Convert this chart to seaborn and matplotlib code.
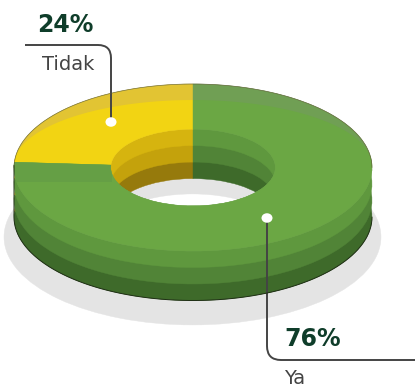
import numpy as np
import matplotlib
matplotlib.use("Agg")
import matplotlib.pyplot as plt
import seaborn as sns
from matplotlib.patches import Ellipse, PathPatch, Rectangle
from matplotlib.path import Path

# Survey answers
labels = ["Tidak", "Ya"]
shares = [24, 76]
share_text = ["24%", "76%"]

# Colours per slice: top face, its shaded rim, then the three side bands
yellow_tones = ["#F2D413", "#E2C433", "#D6B40F", "#C4A20C", "#967A0C"]
green_tones = ["#6BA744", "#709F54", "#5F983E", "#518437", "#3E6A2A"]
green_soft_band = "#659F45"
shadow_tone = "#E4E4E4"
line_tone = "#444444"
heading_tone = "#0F3D2A"
label_tone = "#444444"

W, H = 415, 387
CX, CY = 193, 167.5
RX, RY = 179, 83.5
SQUASH = RY / RX
BAND = 16.5

sns.set_theme(style="white", font="DejaVu Sans")
fig = plt.figure(figsize=(W / 100, H / 100), dpi=100, facecolor="white")

# Pie axes: y is stretched so circles come out as flattened ellipses
ax = fig.add_axes([0, 0, 1, 1], facecolor="none")
# Overlay axes in image pixels for the rim clip, leader lines and text
px = fig.add_axes([0, 0, 1, 1], facecolor="none")
px.set_xlim(0, W)
px.set_ylim(H, 0)


def to_pie_y(y):
    return (H - y) / SQUASH


def ring(values, colors, cy, radius=RX, hole=0.46, cx=CX):
    wedges, _ = ax.pie(
        values, colors=colors, startangle=90, counterclock=True,
        center=(cx, to_pie_y(cy)), radius=radius, frame=False,
        wedgeprops=dict(width=radius * (1 - hole), linewidth=0.3),
    )
    for w, c in zip(wedges, colors):
        w.set_edgecolor(c)
    return wedges


# Ground shadow is a ring too, which is why white shows through the hole
ring([1], [shadow_tone], 237, radius=188.5, hole=0.49, cx=192.5)

# Side bands, lowest first, each one peeking out below the next
for level in (3, 2, 1):
    ring(shares, [yellow_tones[level + 1], green_tones[level + 1]], CY + level * BAND)

# Top face: shaded rim below, lit surface above it clipped to the lit area
ring(shares, [yellow_tones[1], green_tones[1]], CY)
lit_wedges = ring(shares, [yellow_tones[0], green_tones[0]], CY)
soft_wedges = ring(shares, [yellow_tones[0], green_soft_band], CY)

t = np.linspace(np.pi, 0, 80)
arc = np.column_stack([CX + RX * np.cos(t), 165 - 65 * np.sin(t)])
outline = np.vstack([
    arc,
    [[CX + RX + 5, 165], [CX + RX + 5, 265], [0, 265], [0, 182], [112, 182], [112, 165]],
    arc[:1],
])
lit_area = Path(outline)

ax.set_xlim(0, W)
ax.set_ylim(0, H / SQUASH)
ax.set_aspect("auto")
ax.set_axis_off()
px.set_axis_off()

for w in lit_wedges:
    w.set_clip_on(True)
    w.set_clip_path(lit_area, transform=px.transData)

# Gentler shading on the green just below the slice boundary
soft_box = Rectangle((0, 160), 112, 22, transform=px.transData)
for w in soft_wedges:
    w.set_clip_on(True)
    w.set_clip_path(soft_box)
soft_wedges[0].set_visible(False)

# Thin dark contour down the left side and along the front of the base
front = np.linspace(np.pi, 2 * np.pi, 80)
contour_x = np.r_[CX - RX, CX + RX * np.cos(front)]
contour_y = np.r_[CY - 2, CY + 3 * BAND - RY * np.sin(front)]
px.plot(contour_x, contour_y, color="#1E2E14", linewidth=0.7, solid_capstyle="round")

# Fine contour over the far edge of the top face
back = np.linspace(np.pi, 0, 80)
px.plot(CX + RX * np.cos(back), CY - RY * np.sin(back), color="#5A5A30",
        linewidth=0.5, alpha=0.8)


def leader(points):
    codes = [Path.MOVETO, Path.LINETO, Path.CURVE3, Path.CURVE3, Path.LINETO]
    px.add_patch(PathPatch(Path(points, codes), fill=False, edgecolor=line_tone,
                           linewidth=1.4, capstyle="butt"))


leader([(25, 45), (98, 45), (111, 45), (111, 58), (111, 122)])
leader([(267, 218), (267, 346), (267, 360), (281, 360), (415, 360)])

for x, y in [(111, 122), (267, 218)]:
    px.add_patch(Ellipse((x, y), 11, 9.5, facecolor="white", edgecolor="none", zorder=5))

px.set_xlim(0, W)
px.set_ylim(H, 0)

px.text(65.5, 25.5, share_text[0], ha="center", va="center", fontsize=17,
        fontweight="bold", color=heading_tone)
px.text(68, 64, labels[0], ha="center", va="center", fontsize=14, color=label_tone)
px.text(313, 339, share_text[1], ha="center", va="center", fontsize=17,
        fontweight="bold", color=heading_tone)
px.text(294.5, 379, labels[1], ha="center", va="center", fontsize=14, color=label_tone)

fig.savefig("out.png", dpi=100)
